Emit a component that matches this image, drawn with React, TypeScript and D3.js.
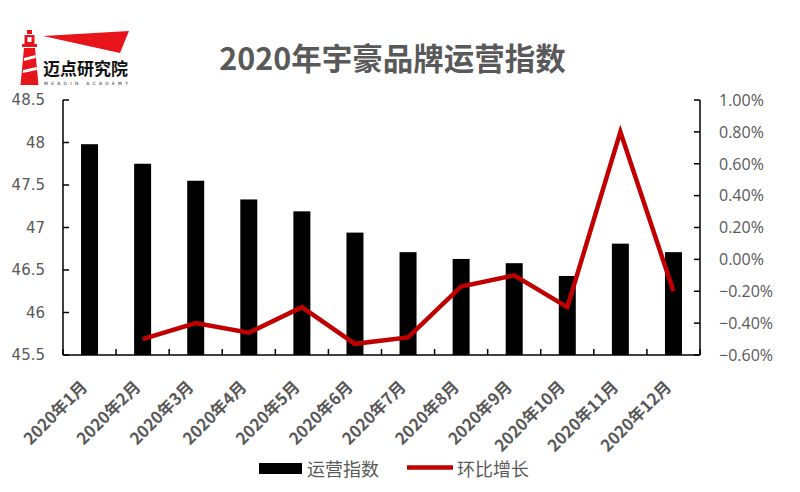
import React from "react";
import * as d3 from "d3";

const categories = ["2020年1月","2020年2月","2020年3月","2020年4月","2020年5月","2020年6月","2020年7月","2020年8月","2020年9月","2020年10月","2020年11月","2020年12月"];
const indexValues = [47.98, 47.75, 47.55, 47.33, 47.19, 46.94, 46.71, 46.63, 46.58, 46.43, 46.81, 46.71];
const growthValues: (number | null)[] = [null, -0.50, -0.40, -0.46, -0.30, -0.53, -0.49, -0.17, -0.10, -0.30, 0.80, -0.20];
const leftTicks = [45.5, 46, 46.5, 47, 47.5, 48, 48.5];
const rightTicks = [-0.6, -0.4, -0.2, 0, 0.2, 0.4, 0.6, 0.8, 1.0];
const title = "2020年宇豪品牌运营指数";
const legendBar = "运营指数";
const legendLine = "环比增长";

const W = 800, H = 492;
const L = 63, R = 700, T = 100, B = 355;
const GRAY = "#595959";
const RED = "#C00000";
const CJK = "'Noto Sans CJK SC', 'Noto Sans', sans-serif";

export default function App() {
  const x = d3.scaleBand<string>().domain(categories).range([L, R]).paddingInner(0.68).paddingOuter(0.34);
  const step = (R - L) / categories.length;
  const yL = d3.scaleLinear().domain([45.5, 48.5]).range([B, T]);
  const yR = d3.scaleLinear().domain([-0.6, 1.0]).range([B, T]);
  const cx = (c: string) => (x(c) as number) + x.bandwidth() / 2;

  const line = d3.line<[string, number | null]>()
    .defined((d) => d[1] !== null)
    .x((d) => cx(d[0]))
    .y((d) => yR(d[1] as number));
  const pts: [string, number | null][] = categories.map((c, i) => [c, growthValues[i]]);

  const boundaries = d3.range(categories.length + 1).map((i) => L + i * step);

  return (
    <svg width={W} height={H} style={{ position: "absolute", left: 0, top: 0, background: "#fff" }}>
      <rect x={0} y={0} width={W} height={H} fill="#fff" />
      {/* Logo */}
      <g>
        <polygon points="43,36 129,31 120,53" fill="#E8141B" />
        <rect x={27} y={30} width={5} height={4} fill="#E8141B" />
        <rect x={24.5} y={35} width={10} height={9} fill="#E8141B" />
        <rect x={27.5} y={37} width={4} height={5} fill="#fff" />
        <rect x={22} y={44} width={15} height={3} fill="#E8141B" />
        <polygon points="24,48 35,48 38.5,85 20.5,85" fill="#E8141B" />
        <polygon points="24,58 35.5,55 35.7,58 23.8,61" fill="#fff" />
        <polygon points="23,70 36.7,67 36.9,70 22.8,73" fill="#fff" />
        <text x={43} y={75} fontFamily={CJK} fontSize={17} fontWeight={700} fill="#111" textLength={85} lengthAdjust="spacingAndGlyphs">迈点研究院</text>
        <text x={44} y={85} fontFamily="'DejaVu Sans', sans-serif" fontSize={4.5} fill="#333" textLength={84} lengthAdjust="spacing">MEADIN ACADEMY</text>
      </g>

      {/* Title */}
      <text x={392.5} y={70} textAnchor="middle" fontFamily={CJK} fontSize={30.5} fontWeight={700} fill={GRAY}>{title}</text>

      {/* Bars */}
      {categories.map((c, i) => (
        <rect key={c} x={x(c)} y={yL(indexValues[i])} width={x.bandwidth()} height={B - yL(indexValues[i])} fill="#000" />
      ))}

      {/* Axes */}
      <g stroke="#000" strokeWidth={1.5} fill="none">
        <line x1={L} y1={T} x2={L} y2={B} />
        <line x1={R} y1={T} x2={R} y2={B} />
        <line x1={L} y1={B} x2={R} y2={B} />
        {leftTicks.map((t) => (
          <line key={"l" + t} x1={L} x2={L + 6} y1={yL(t)} y2={yL(t)} />
        ))}
        {rightTicks.map((t) => (
          <line key={"r" + t} x1={R - 6} x2={R} y1={yR(t)} y2={yR(t)} />
        ))}
        {boundaries.map((b, i) => (
          <line key={"b" + i} x1={b} x2={b} y1={B} y2={B - 6} />
        ))}
      </g>

      {/* Line */}
      <path d={line(pts) || ""} fill="none" stroke={RED} strokeWidth={4.5} strokeLinejoin="miter" />

      {/* Left tick labels */}
      {leftTicks.map((t) => (
        <text key={"lt" + t} x={45} y={yL(t)} dy="0.35em" textAnchor="end" fontFamily="'DejaVu Sans', sans-serif" fontSize={15} fill={GRAY}>{d3.format("")(t)}</text>
      ))}
      {/* Right tick labels */}
      {rightTicks.map((t) => (
        <text key={"rt" + t} x={719} y={yR(t)} dy="0.36em" textAnchor="start" fontFamily="'Open Sans', sans-serif" fontSize={16} fill={GRAY}>{d3.format(".2f")(t) + "%"}</text>
      ))}

      {/* X labels */}
      {categories.map((c) => (
        <text key={"x" + c} transform={`translate(${cx(c) - 1},${388}) rotate(-45)`} textAnchor="end" fontFamily={CJK} fontSize={16.5} fontWeight={700} fill={GRAY}>{c}</text>
      ))}

      {/* Legend */}
      <rect x={259} y={463} width={43} height={11} fill="#000" />
      <text x={307} y={470} dy="0.35em" fontFamily={CJK} fontSize={18} fill={GRAY}>{legendBar}</text>
      <line x1={407} x2={453} y1={467.5} y2={467.5} stroke={RED} strokeWidth={4.5} />
      <text x={457} y={470} dy="0.35em" fontFamily={CJK} fontSize={18} fill={GRAY}>{legendLine}</text>
    </svg>
  );
}
